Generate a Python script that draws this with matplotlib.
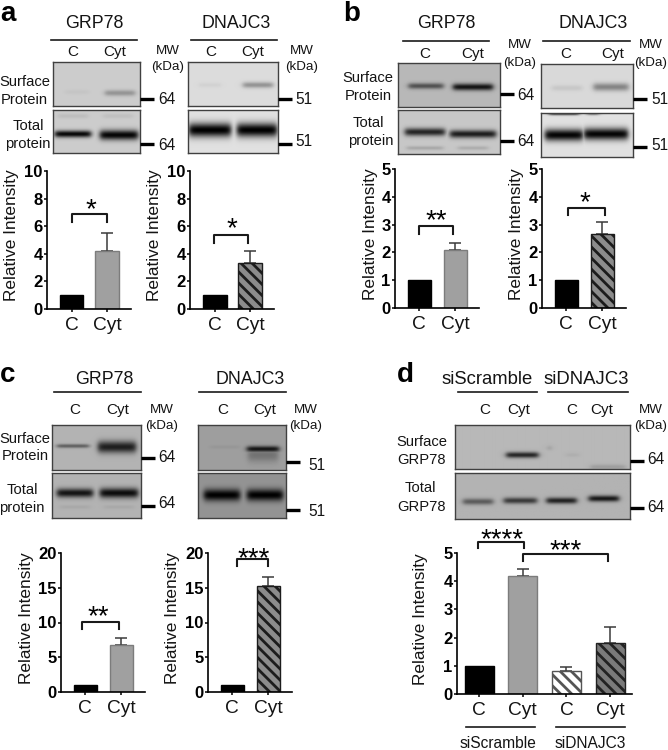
import matplotlib

matplotlib.use("Agg")
import matplotlib.pyplot as plt
import numpy as np

plt.rcParams["font.family"] = ["Liberation Sans", "DejaVu Sans"]
plt.rcParams["hatch.linewidth"] = 2.0

W, H = 668, 750

# -----------------------------
# Bar values
# -----------------------------
labels_two = ["C", "Cyt"]
labels_four = ["C", "Cyt", "C", "Cyt"]

a_grp78 = [1.0, 4.2]
a_grp78_err = [0.0, 1.3]
a_dnajc3 = [1.0, 3.3]
a_dnajc3_err = [0.0, 0.9]

b_grp78 = [1.0, 2.1]
b_grp78_err = [0.0, 0.23]
b_dnajc3 = [1.0, 2.65]
b_dnajc3_err = [0.0, 0.45]

c_grp78 = [1.0, 6.8]
c_grp78_err = [0.0, 0.9]
c_dnajc3 = [1.0, 15.3]
c_dnajc3_err = [0.0, 1.2]

d_values = [1.0, 4.2, 0.82, 1.8]
d_err = [0.0, 0.25, 0.13, 0.57]

ticks_10 = [0, 2, 4, 6, 8, 10]
ticks_5 = [0, 1, 2, 3, 4, 5]
ticks_20 = [0, 5, 10, 15, 20]

fig = plt.figure(figsize=(W / 100, H / 100), dpi=100, facecolor="white")

# overlay in pixel coordinates for labels, brackets and markers
ov = fig.add_axes([0, 0, 1, 1], zorder=5)
ov.set_xlim(0, W)
ov.set_ylim(H, 0)
ov.axis("off")


def px_axes(left, right, top, bottom, **kw):
    return fig.add_axes(
        [left / W, 1 - bottom / H, (right - left) / W, (bottom - top) / H], **kw
    )


def label(x, y, s, size=10.6, ha="center", **kw):
    ov.text(x, y, s, fontsize=size, ha=ha, va="center", color="#141414", **kw)


def panel_letter(x, y, s):
    ov.text(x, y, s, fontsize=20, fontweight="bold", ha="left", va="baseline", color="k")


def blot(left, right, top, bottom, bg, bands):
    """Soft grey bands on a flat background, bands = (x, y, width, height, level)."""
    xs, ys = np.meshgrid(np.arange(left, right) + 0.5, np.arange(top, bottom) + 0.5)
    img = np.full(xs.shape, float(bg))
    for xc, yc, w, h, level in bands:
        prof_x = 0.5 * (np.tanh((xs - xc + w / 2) / 3.0) - np.tanh((xs - xc - w / 2) / 3.0))
        prof_y = np.exp(-((np.abs(ys - yc) / (h / 2 + 1.0)) ** 2))
        img = np.minimum(img, bg + (level - bg) * prof_x * prof_y)
    ax = px_axes(left, right, top, bottom)
    ax.imshow(img, cmap="gray", vmin=0, vmax=1, aspect="auto", interpolation="bilinear")
    ax.set_xticks([])
    ax.set_yticks([])
    for sp in ax.spines.values():
        sp.set_color("#404040")
        sp.set_linewidth(1.0)


def mw_marker(x0, y, text_x, text_y, s):
    ov.plot([x0, x0 + 14], [y, y], color="k", lw=2.4, solid_capstyle="butt")
    label(text_x, text_y, s, size=11.2, ha="left")


def bracket(x0, x1, top, bottom, star_x, star_y, stars):
    ov.plot([x0, x0, x1, x1], [bottom, top, top, bottom], color="#1a1a1a", lw=1.5)
    # asterisk sits high in the em box, so place it from the baseline
    ov.text(star_x, star_y + 15.5, stars, fontsize=20, ha="center", va="baseline", color="k")


def bar_chart(rect, centers, width, values, errs, labels, yticks, ymax, styles):
    left, right, top, bottom = rect
    ax = px_axes(left, right, top, bottom)
    pos = np.arange(1, len(values) + 1)
    step = (centers[1] - centers[0])
    ax.set_xlim(1 + (left - centers[0]) / step, 1 + (right - centers[0]) / step)
    ax.set_ylim(0, ymax)
    for p, v, e, st in zip(pos, values, errs, styles):
        ax.bar(p, v, width=width / step, facecolor=st[0], edgecolor=st[1],
               hatch=st[2], linewidth=1.0, zorder=2)
        if e > 0:
            ax.errorbar(p, v, yerr=[[0], [e]], color="#3a3a3a", capsize=4.6,
                        elinewidth=1.1, capthick=1.1, zorder=1)
    ax.set_xticks(pos)
    ax.set_xticklabels(labels, fontsize=13.8, color="#141414")
    ax.set_yticks(yticks)
    ax.set_yticklabels([str(t) for t in yticks], fontsize=12, fontweight="bold")
    ax.tick_params(axis="x", length=2.4, width=1.1, pad=3.2)
    ax.tick_params(axis="y", length=2.4, width=1.1, pad=0.8)
    ax.patch.set_alpha(0)
    ax.spines["top"].set_visible(False)
    ax.spines["right"].set_visible(False)
    ax.spines["left"].set_linewidth(1.2)
    ax.spines["bottom"].set_linewidth(1.2)
    return ax


def ylabel(x, y):
    label(x, y, "Relative Intensity", size=12.4, rotation=90)


def header(line0, line1, y_line, text, text_x, text_y, size=12.8):
    ov.plot([line0, line1], [y_line, y_line], color="#1a1a1a", lw=1.2)
    label(text_x, text_y, text, size=size)


def mw(x, y0, y1):
    label(x, y0, "MW", size=9.6)
    label(x, y1, "(kDa)", size=9.6)


BLACK = ("black", "black", None)
GREY = ("#a0a0a0", "#7c7c7c", None)
STRIPE = ("#8c8c8c", "#1c1c1c", "\\\\\\")
WHITE_STRIPE = ("white", "#555555", "\\\\\\")
DARK_STRIPE = ("#7a7a7a", "#222222", "\\\\\\")

# -----------------------------
# Panel a
# -----------------------------
panel_letter(0, 21, "a")
header(51, 137, 40, "GRP78", 94, 24)
header(191, 277, 40, "DNAJC3", 236, 24)
label(73, 52, "C", 11)
label(115, 52, "Cyt", 11)
label(211, 52, "C", 11)
label(253, 52, "Cyt", 11)
mw(168, 51, 67)
mw(302, 51, 67)
label(25, 82, "Surface")
label(24, 100, "Protein")
label(28, 126, "Total")
label(28, 144, "protein")
blot(53, 140, 62, 106, 0.80, [(77, 92, 24, 3, 0.77), (120, 93, 30, 4, 0.58)])
blot(53, 140, 110, 153, 0.80, [(73, 134, 36, 5, 0.03), (119, 135, 38, 8, 0.02),
                              (73, 116, 30, 3, 0.74), (118, 116, 30, 3, 0.75)])
blot(188, 278, 62, 106, 0.86, [(210, 85, 22, 3, 0.82), (258, 85, 30, 4, 0.58)])
blot(188, 278, 110, 153, 0.88, [(210, 130, 42, 12, 0.0), (257, 130, 40, 12, 0.0)])
mw_marker(140, 99, 158, 100, "64")
mw_marker(140, 144, 158, 145, "64")
mw_marker(278, 99, 295, 99, "51")
mw_marker(278, 144, 295, 142, "51")
bar_chart((47, 131, 171, 309), (71.5, 107), 23.5, a_grp78, a_grp78_err, labels_two,
          ticks_10, 10, [BLACK, GREY])
bar_chart((190, 274, 171, 309), (215, 250), 23.5, a_dnajc3, a_dnajc3_err, labels_two,
          ticks_10, 10, [BLACK, STRIPE])
ylabel(12, 235)
ylabel(155, 235)
bracket(72, 107, 214, 222, 91, 202, "*")
bracket(214, 248, 235, 243, 232, 221, "*")

# -----------------------------
# Panel b
# -----------------------------
panel_letter(343, 21, "b")
header(403, 489, 41, "GRP78", 446, 24)
header(543, 630, 41, "DNAJC3", 593, 24)
label(425, 54, "C", 11)
label(473, 54, "Cyt", 11)
label(566, 54, "C", 11)
label(613, 54, "Cyt", 11)
mw(520, 45, 63)
mw(651, 45, 63)
label(368, 78, "Surface")
label(368, 96, "Protein")
label(368, 123, "Total")
label(371, 141, "protein")
blot(398, 500, 63, 107, 0.72, [(426, 86, 35, 4, 0.32), (473, 87, 40, 5, 0.08)])
blot(398, 500, 110, 154, 0.78, [(425, 132, 40, 6, 0.15), (473, 134, 46, 6, 0.12),
                               (425, 148, 36, 2, 0.66), (473, 148, 30, 2, 0.68)])
blot(541, 633, 64, 108, 0.85, [(567, 88, 30, 4, 0.78), (611, 87, 35, 6, 0.52)])
blot(541, 633, 113, 157, 0.88, [(564, 135, 38, 10, 0.02), (606, 134, 44, 10, 0.02),
                               (564, 114, 30, 1, 0.35), (593, 114, 12, 1, 0.55)])
mw_marker(500, 94, 517, 95, "64")
mw_marker(500, 141, 517, 141, "64")
mw_marker(633, 99, 651, 99, "51")
mw_marker(633, 147, 651, 145, "51")
bar_chart((395, 479, 169, 308), (419, 455), 23, b_grp78, b_grp78_err, labels_two,
          ticks_5, 5, [BLACK, GREY])
bar_chart((542, 626, 169, 308), (566, 602), 23, b_dnajc3, b_dnajc3_err, labels_two,
          ticks_5, 5, [BLACK, STRIPE])
ylabel(370, 234)
ylabel(516, 234)
bracket(419, 453, 226, 234, 436, 213, "**")
bracket(568, 605, 208, 215, 585, 195, "*")

# -----------------------------
# Panel c
# -----------------------------
panel_letter(0, 382, "c")
header(54, 141, 392, "GRP78", 104, 379)
header(199, 286, 392, "DNAJC3", 250, 379)
label(75, 410, "C", 11)
label(118, 410, "Cyt", 11)
label(223, 410, "C", 11)
label(265, 410, "Cyt", 11)
mw(162, 410, 426)
mw(306, 410, 426)
label(25, 439, "Surface")
label(25, 456, "Protein")
label(22, 490, "Total")
label(22, 508, "protein")
blot(52, 141, 425, 470, 0.70, [(73, 446, 32, 2, 0.38), (117, 447, 38, 10, 0.12)])
blot(52, 141, 473, 518, 0.70, [(75, 493, 36, 7, 0.08), (119, 493, 38, 8, 0.05),
                              (75, 507, 30, 2, 0.66), (119, 507, 30, 2, 0.66)])
blot(198, 286, 425, 470, 0.62, [(225, 447, 30, 2, 0.59), (263, 455, 30, 12, 0.45),
                               (263, 449, 32, 4, 0.08)])
blot(198, 286, 473, 518, 0.58, [(222, 495, 36, 10, 0.0), (265, 495, 36, 10, 0.0)])
mw_marker(141, 458, 158, 457, "64")
mw_marker(141, 506, 158, 504, "64")
mw_marker(286, 462, 308, 465, "51")
mw_marker(286, 510, 308, 512, "51")
bar_chart((61, 145, 553, 692), (85, 121), 23, c_grp78, c_grp78_err, labels_two,
          ticks_20, 20, [BLACK, GREY])
bar_chart((208, 292, 553, 692), (232, 268), 23, c_dnajc3, c_dnajc3_err, labels_two,
          ticks_20, 20, [BLACK, STRIPE])
ylabel(27, 618)
ylabel(173, 618)
bracket(82, 119, 622, 629, 98, 609, "**")
bracket(237, 268, 559, 566, 254, 551, "***")

# -----------------------------
# Panel d
# -----------------------------
panel_letter(397, 382, "d")
header(458, 537, 392, "siScramble", 487, 380, size=13.3)
header(548, 628, 392, "siDNAJC3", 586, 380, size=13.3)
label(485, 410, "C", 11)
label(519, 410, "Cyt", 11)
label(572, 410, "C", 11)
label(602, 410, "Cyt", 11)
mw(651, 410, 426)
label(422, 442, "Surface")
label(422, 460, "GRP78")
label(420, 488, "Total")
label(422, 507, "GRP78")
blot(455, 630, 425, 469, 0.72, [(522, 455, 32, 4, 0.15), (549, 448, 2, 3, 0.52),
                               (572, 455, 12, 2, 0.68), (607, 467, 35, 3, 0.62)])
blot(455, 630, 473, 519, 0.70, [(478, 502, 30, 4, 0.35), (520, 501, 33, 4, 0.22),
                               (561, 501, 30, 4, 0.12), (603, 499, 30, 4, 0.08)])
mw_marker(630, 461, 647, 459, "64")
mw_marker(630, 508, 647, 507, "64")
bar_chart((457, 632, 553, 694), (479, 522.7), 29, d_values, d_err, labels_four,
          ticks_5, 5, [BLACK, GREY, WHITE_STRIPE, DARK_STRIPE])
ylabel(420, 619)
bracket(478, 524, 542, 548, 502, 532, "****")
bracket(523, 608, 554, 561, 566, 543, "***")
ov.plot([466, 535], [727, 727], color="#1a1a1a", lw=1.2)
ov.plot([556, 625], [727, 727], color="#1a1a1a", lw=1.2)
label(498, 744, "siScramble", size=11.2)
label(590, 743, "siDNAJC3", size=11.2)

fig.savefig("out.png", dpi=100)
